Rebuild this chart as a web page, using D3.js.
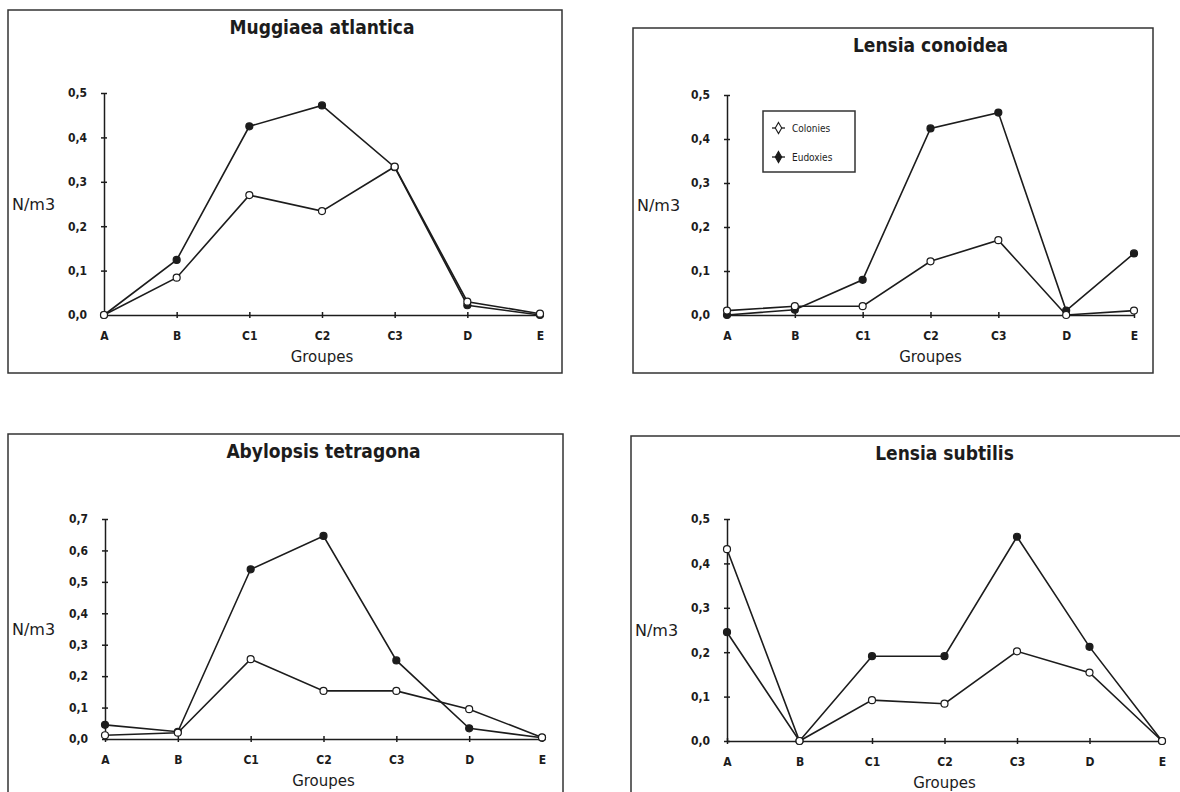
<!DOCTYPE html>
<html>
<head>
<meta charset="utf-8">
<script src="https://cdn.jsdelivr.net/npm/d3@7"></script>
<style>
  body { margin: 0; background: #fff; }
  svg { display: block; }
</style>
</head>
<body>
<div id="chart"></div>
<script>
// Categories (x axis)
const groups = ['A', 'B', 'C1', 'C2', 'C3', 'D', 'E'];
const seriesNames = ['Colonies', 'Eudoxies'];

// Values (N/m3)
const muggiaeaColonies = [0.0, 0.084, 0.27, 0.234, 0.334, 0.03, 0.003];
const muggiaeaEudoxies = [0.0, 0.124, 0.425, 0.472, 0.333, 0.022, 0.0];
const conoideaColonies = [0.01, 0.02, 0.02, 0.122, 0.17, 0.0, 0.01];
const conoideaEudoxies = [0.0, 0.012, 0.08, 0.424, 0.46, 0.01, 0.14];
const abylopsisColonies = [0.012, 0.02, 0.254, 0.153, 0.153, 0.095, 0.005];
const abylopsisEudoxies = [0.045, 0.023, 0.54, 0.646, 0.25, 0.034, 0.004];
const subtilisColonies = [0.432, 0.0, 0.092, 0.084, 0.202, 0.154, 0.0];
const subtilisEudoxies = [0.245, 0.0, 0.191, 0.191, 0.46, 0.212, 0.0];

const titles = ['Muggiaea atlantica', 'Lensia conoidea', 'Abylopsis tetragona', 'Lensia subtilis'];
const yMaxes = [0.5, 0.5, 0.7, 0.5];

// Panel layout (frame box + plot area in pixels)
const layouts = [
    { frame: [8, 10, 562, 373], plot: [104, 540, 93, 315] },
    { frame: [633, 28, 1153, 373], plot: [727, 1134, 95, 315], legend: true },
    { frame: [8, 434, 563, 800], plot: [105, 542, 519, 739] },
    { frame: [631, 436, 1190, 800], plot: [727, 1162, 519, 741] }
];
const seriesByPanel = [
    [muggiaeaColonies, muggiaeaEudoxies],
    [conoideaColonies, conoideaEudoxies],
    [abylopsisColonies, abylopsisEudoxies],
    [subtilisColonies, subtilisEudoxies]
];

const ink = '#1c1c1c';
const condensed = '"DejaVu Sans Condensed", "Liberation Sans Narrow", sans-serif';
const regular = '"DejaVu Sans", sans-serif';

const svg = d3.select('#chart')
    .append('svg')
    .attr('width', 1180)
    .attr('height', 792);

const fmt = d => d3.format('.1f')(d).replace('.', ',');

layouts.forEach((L, i) => {
    const g = svg.append('g');
    const [fx0, fy0, fx1, fy1] = L.frame;
    const [px0, px1, py0, py1] = L.plot;

    // Frame
    g.append('rect')
        .attr('x', fx0).attr('y', fy0)
        .attr('width', fx1 - fx0).attr('height', fy1 - fy0)
        .attr('fill', 'none')
        .attr('stroke', '#333')
        .attr('stroke-width', 1.5);

    const x = d3.scalePoint().domain(groups).range([px0, px1]);
    const y = d3.scaleLinear().domain([0, yMaxes[i]]).range([py1, py0]);

    // Y axis
    const yAxis = g.append('g')
        .attr('transform', `translate(${px0},0)`)
        .call(d3.axisLeft(y)
            .tickValues(d3.range(0, yMaxes[i] + 0.001, 0.1))
            .tickFormat(fmt)
            .tickSize(3)
            .tickSizeOuter(0)
            .tickPadding(14));
    yAxis.selectAll('.tick line').attr('x1', 3);
    yAxis.selectAll('path, line').attr('stroke', ink).attr('stroke-width', 1.5);
    yAxis.selectAll('text')
        .attr('fill', ink)
        .style('font-family', condensed)
        .style('font-weight', 'bold')
        .style('font-size', '12px');

    // X axis
    const xAxis = g.append('g')
        .attr('transform', `translate(0,${py1})`)
        .call(d3.axisBottom(x).tickSize(3).tickSizeOuter(0).tickPadding(13));
    xAxis.selectAll('.tick line').attr('y1', -3);
    xAxis.selectAll('path, line').attr('stroke', ink).attr('stroke-width', 1.5);
    xAxis.selectAll('text')
        .attr('fill', ink)
        .style('font-family', condensed)
        .style('font-weight', 'bold')
        .style('font-size', '12px');

    // Title
    g.append('text')
        .attr('x', (px0 + px1) / 2)
        .attr('y', fy0 + 17)
        .attr('dy', '0.35em')
        .attr('text-anchor', 'middle')
        .text(titles[i])
        .style('font-family', condensed)
        .style('font-weight', 'bold')
        .style('font-size', '19px')
        .attr('fill', ink);

    // Axis names
    g.append('text')
        .attr('x', fx0 + 4)
        .attr('y', (py0 + py1) / 2)
        .attr('dy', '0.35em')
        .text('N/m3')
        .style('font-family', regular)
        .style('font-size', '16px')
        .attr('fill', ink);

    g.append('text')
        .attr('x', (px0 + px1) / 2)
        .attr('y', py1 + 42)
        .attr('dy', '0.35em')
        .attr('text-anchor', 'middle')
        .text('Groupes')
        .style('font-family', regular)
        .style('font-size', '15px')
        .attr('fill', ink);

    // Lines + markers (eudoxies drawn first, colonies on top)
    const line = d3.line().x((d, j) => x(groups[j])).y(d => y(d));
    [1, 0].forEach(s => {
        const vals = seriesByPanel[i][s];
        g.append('path')
            .datum(vals)
            .attr('d', line)
            .attr('fill', 'none')
            .attr('stroke', ink)
            .attr('stroke-width', 1.6);
    });
    [1, 0].forEach(s => {
        const vals = seriesByPanel[i][s];
        g.selectAll(null)
            .data(vals)
            .enter().append('circle')
            .attr('cx', (d, j) => x(groups[j]))
            .attr('cy', d => y(d))
            .attr('r', 3.5)
            .attr('fill', s === 0 ? '#fff' : ink)
            .attr('stroke', ink)
            .attr('stroke-width', 1.2);
    });

    // Legend
    if (L.legend) {
        const lg = g.append('g');
        lg.append('rect')
            .attr('x', 763).attr('y', 111)
            .attr('width', 92).attr('height', 61)
            .attr('fill', '#fff')
            .attr('stroke', '#333')
            .attr('stroke-width', 1.5);
        seriesNames.forEach((name, s) => {
            const ly = 128 + s * 29;
            lg.append('line')
                .attr('x1', 772).attr('x2', 785)
                .attr('y1', ly).attr('y2', ly)
                .attr('stroke', ink).attr('stroke-width', 1.3);
            lg.append('path')
                .attr('d', d3.symbol(d3.symbolDiamond, 36)())
                .attr('transform', `translate(778.5,${ly})`)
                .attr('fill', s === 0 ? '#fff' : ink)
                .attr('stroke', ink)
                .attr('stroke-width', 1.1);
            lg.append('text')
                .attr('x', 792)
                .attr('y', ly)
                .attr('dy', '0.35em')
                .text(name)
                .style('font-family', condensed)
                .style('font-size', '10px')
                .attr('fill', ink);
        });
    }
});
</script>
</body>
</html>
